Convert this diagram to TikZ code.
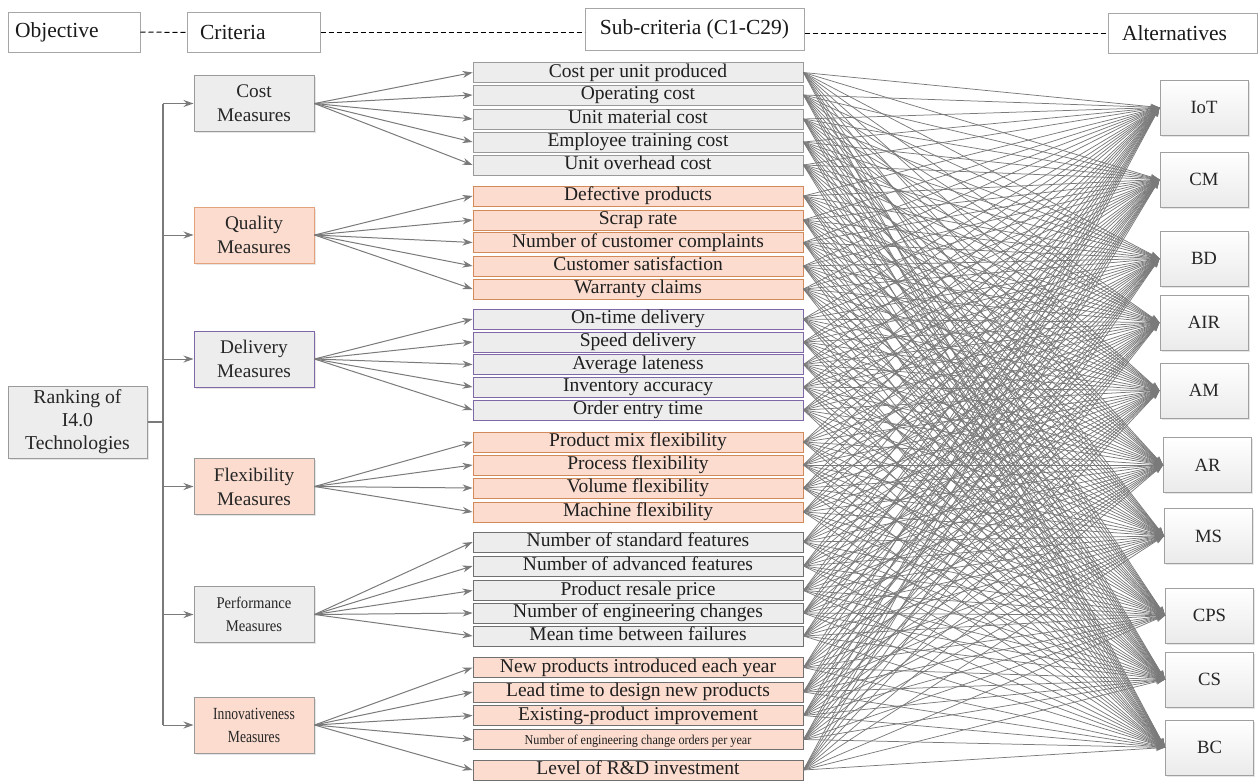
\documentclass[tikz,border=0pt]{standalone}
\usepackage{fontspec}
\setmainfont{Liberation Serif}
\newfontfamily\narrowserif[FakeStretch=0.9]{Liberation Serif}
\newfontfamily\narrowerserif[FakeStretch=0.8]{Liberation Serif}
\usepackage{xcolor}
\usepackage{tikz}
\usetikzlibrary{arrows.meta, positioning, shadows}

\definecolor{boxgray}{HTML}{EDEDED}
\definecolor{peach}{HTML}{FBDCCF}
\definecolor{orangeline}{HTML}{D28A5A}
\definecolor{lightorange}{HTML}{E3A27C}
\definecolor{purpleline}{HTML}{8068A8}
\definecolor{greyline}{HTML}{9A9A9A}
\definecolor{darkline}{HTML}{707070}
\definecolor{linkgray}{HTML}{7A7A7A}
\definecolor{hdrline}{HTML}{A6A6A6}
\definecolor{altline}{HTML}{A0A0A0}

\begin{document}
\begin{tikzpicture}[
    x=1pt, y=-1pt,
    hdr/.style={rectangle, draw=hdrline, fill=white, line width=1pt, minimum height=40pt, inner ysep=0pt, text=black!90, font=\fontsize{21.5}{24}\selectfont},
    crit/.style={rectangle, line width=1pt, minimum width=120pt, minimum height=56pt, align=center, inner sep=0pt, text=black!85, font=\fontsize{19.3}{24}\selectfont, drop shadow={opacity=0.2, shadow xshift=1.5pt, shadow yshift=-1.5pt}},
    sub/.style={rectangle, line width=0.9pt, minimum width=330pt, minimum height=20pt, inner sep=0pt, text height=13pt, text depth=4pt, text=black!88, font=\fontsize{19.5}{20}\selectfont},
    costsub/.style={fill=boxgray, draw=greyline},
    qualitysub/.style={fill=peach, draw=orangeline},
    deliverysub/.style={fill=boxgray, draw=purpleline},
    flexibilitysub/.style={fill=peach, draw=orangeline},
    performancesub/.style={fill=boxgray, draw=darkline},
    innovativenesssub/.style={fill=peach, draw=darkline},
    alt/.style={rectangle, draw=altline, top color=white, bottom color=black!8, line width=1pt, minimum width=88pt, minimum height=55pt, text=black!85, font=\fontsize{18.7}{20}\selectfont, drop shadow={opacity=0.2, shadow xshift=1.5pt, shadow yshift=-1.5pt}},
    link/.style={draw=linkgray, line width=1pt, -{Stealth[length=10pt, width=7pt]}},
    web/.style={draw=linkgray, line width=0.75pt, -{Stealth[length=9pt, width=6pt]}},
    trunk/.style={draw=linkgray, line width=1.2pt},
    sep/.style={dashed, dash pattern=on 5pt off 3pt, line width=1pt},
]
\useasboundingbox (0,0) rectangle (1258,780);

% header row
\node[hdr, text width=118pt, inner xsep=7pt, align=left] (objective) at (74,32) {Objective};
\node[hdr, text width=107pt, inner xsep=13pt, align=left] (criteria) at (253.5,32.5) {Criteria};
\node[hdr, minimum width=219pt, minimum height=42pt] (subcrit) at (694.5,29) {Sub-criteria (C1-C29)};
\node[hdr, text width=121pt, inner xsep=14pt, align=left] (alternatives) at (1182.5,33) {Alternatives};
\draw[sep] (objective.east) -- (criteria.west);
\draw[sep] (criteria.east) -- (criteria.east -| subcrit.west);
\draw[sep] (subcrit.east |- alternatives.west) -- (alternatives.west);

% objective and criteria
\node[crit, fill=boxgray, draw=greyline, minimum width=139pt, minimum height=72pt, font=\fontsize{19.7}{23}\selectfont] (ranking) at (77.5,422) {Ranking of\\I4.0\\Technologies};
\node[crit, fill=boxgray, draw=greyline] (cost) at (254,103.5) {Cost\\Measures};
\node[crit, fill=peach, draw=lightorange] (quality) at (254,235) {Quality\\Measures};
\node[crit, fill=boxgray, draw=purpleline] (delivery) at (254,359) {Delivery\\Measures};
\node[crit, fill=peach, draw=greyline] (flexibility) at (254,486.5) {Flexibility\\Measures};
\node[crit, fill=boxgray, draw=greyline, font=\narrowserif\fontsize{16.3}{23}\selectfont] (performance) at (254,614.5) {Performance\\Measures};
\node[crit, fill=peach, draw=greyline, font=\narrowerserif\fontsize{17}{23}\selectfont] (innovativeness) at (254,725) {Innovativeness\\Measures};

\coordinate (tk) at (163,422);
\draw[trunk] (ranking.east) -- (tk);
\draw[trunk] (tk |- cost.west) -- (tk |- innovativeness.west);
\foreach \c in {cost, quality, delivery, flexibility, performance, innovativeness}
    \draw[link] (tk |- \c.west) -- (\c.west);

% sub-criteria
\foreach \n/\y/\grp/\txt in {
    1/72.5/cost/Cost per unit produced,
    2/95/cost/Operating cost,
    3/119/cost/Unit material cost,
    4/142/cost/Employee training cost,
    5/165/cost/Unit overhead cost,
    6/196/quality/Defective products,
    7/220/quality/Scrap rate,
    8/242.5/quality/Number of customer complaints,
    9/266/quality/Customer satisfaction,
    10/289/quality/Warranty claims,
    11/319/delivery/On-time delivery,
    12/342/delivery/Speed delivery,
    13/364.5/delivery/Average lateness,
    14/387/delivery/Inventory accuracy,
    15/410/delivery/Order entry time,
    16/442/flexibility/Product mix flexibility,
    17/465/flexibility/Process flexibility,
    18/488/flexibility/Volume flexibility,
    19/512/flexibility/Machine flexibility,
    20/542/performance/Number of standard features,
    21/566/performance/Number of advanced features,
    22/590.5/performance/Product resale price,
    23/613/performance/Number of engineering changes,
    24/636/performance/Mean time between failures,
    25/667.5/innovativeness/New products introduced each year,
    26/692/innovativeness/Lead time to design new products,
    27/715.5/innovativeness/Existing-product improvement,
    28/739.5/innovativeness/{\narrowserif\fontsize{13.5}{14}\selectfont Number of engineering change orders per year},
    29/770/innovativeness/Level of R\&D investment}
{
    \node[sub, \grp sub] (s\n) at (638,\y) {\txt};
    \draw[link] (\grp.east) -- (s\n.west);
}

% alternatives
\foreach \a/\x/\y/\txt in {iot/1204/107.5/IoT, cm/1204/179.5/CM, bd/1204/258.5/BD,
    air/1204/322.5/AIR, am/1204/390.5/AM, ar/1207.5/465/AR, ms/1208.5/536/MS,
    cps/1209.5/615.5/CPS, cs/1209.5/679.5/CS, bc/1209.5/747.5/BC}
    \node[alt] (\a) at (\x,\y) {\txt};

\foreach \n in {1,...,29}
    \foreach \a in {iot, cm, bd, air, am, ar, ms, cps, cs, bc}
        \draw[web] (s\n.east) -- (\a.west);
\end{tikzpicture}
\end{document}
